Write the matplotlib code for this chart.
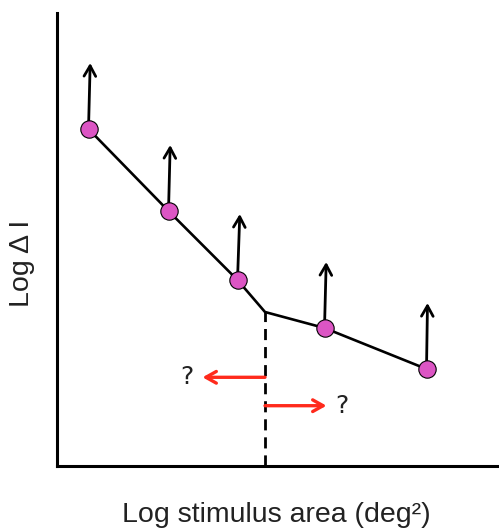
import numpy as np
import matplotlib.pyplot as plt

plt.rcParams['font.family'] = ['Liberation Sans', 'DejaVu Sans']

# measured thresholds (log units, arbitrary origin)
log_area = [0.32, 1.12, 1.81, 2.68, 3.70]
log_dI = [3.37, 2.55, 1.86, 1.38, 0.97]

# critical area where the two limbs meet
knee_area = 2.085
knee_dI = 1.54

# each point is only a lower bound -> arrow pointing up
bound_dx = [0.017, 0.017, 0.023, 0.017, 0.01]
bound_dy = 0.66

DOT = '#dc55c4'
RED = '#ff2a1c'
HEAD = '->,head_length=0.75,head_width=0.42'

fig = plt.figure(figsize=(4.99, 5.30), dpi=100)
ax = fig.add_axes([56.5 / 499, 1 - 466 / 530, 442.5 / 499, 453 / 530])

curve_x = log_area[:3] + [knee_area] + log_area[3:]
curve_y = log_dI[:3] + [knee_dI] + log_dI[3:]
ax.plot(curve_x, curve_y, color='black', lw=1.9, zorder=2)

for x, y, dx in zip(log_area, log_dI, bound_dx):
    ax.annotate('', xy=(x + dx, y + bound_dy), xytext=(x, y),
                arrowprops=dict(arrowstyle=HEAD, color='black', lw=2,
                                shrinkA=0, shrinkB=0),
                zorder=3)

ax.plot(log_area, log_dI, 'o', ms=12.5, mfc=DOT, mec='black', mew=0.8, zorder=4)

# critical area marker
ax.plot([knee_area, knee_area], [0, knee_dI], color='black', lw=2,
        ls=(0, (4, 2.5)), zorder=1)

ax.annotate('', xy=(1.46, 0.887), xytext=(knee_area, 0.887),
            arrowprops=dict(arrowstyle=HEAD, color=RED, lw=2.4,
                            shrinkA=0, shrinkB=0))
ax.annotate('', xy=(2.70, 0.603), xytext=(knee_area, 0.603),
            arrowprops=dict(arrowstyle=HEAD, color=RED, lw=2.4,
                            shrinkA=0, shrinkB=0))
ax.text(1.305, 0.89, '?', fontsize=18, ha='center', va='center', color='#222222',
        family='DejaVu Sans')
ax.text(2.85, 0.60, '?', fontsize=18, ha='center', va='center', color='#222222',
        family='DejaVu Sans')

ax.set_xlim(0, 4.425)
ax.set_ylim(0, 4.53)
ax.set_xticks([])
ax.set_yticks([])
ax.spines['top'].set_visible(False)
ax.spines['right'].set_visible(False)
ax.spines['left'].set_linewidth(2.2)
ax.spines['bottom'].set_linewidth(2.2)

ax.set_xlabel('Log stimulus area (deg\u00b2)', fontsize=20.5, color='#222222')
ax.set_ylabel('Log \u0394 I', fontsize=20.5, color='#222222')
ax.xaxis.label.set_va('center')
ax.yaxis.label.set_va('center')
ax.xaxis.set_label_coords(0.497, -0.108)
ax.yaxis.set_label_coords(-0.078, 0.447)

plt.savefig('out.png', dpi=100)
